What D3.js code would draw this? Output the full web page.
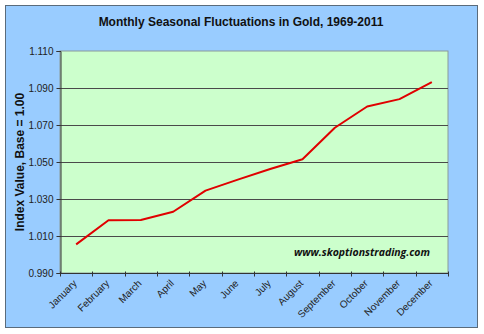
<!DOCTYPE html>
<html>
<head>
<meta charset="utf-8">
<script src="https://cdn.jsdelivr.net/npm/d3@7"></script>
<style>
  html, body { margin: 0; padding: 0; background: #ffffff; }
  svg { display: block; }
</style>
</head>
<body>
<script>
// Monthly seasonal index of gold prices, base = 1.00
const months = ["January", "February", "March", "April", "May", "June",
                "July", "August", "September", "October", "November", "December"];
const indexValues = [1.0055, 1.0185, 1.0186, 1.0231, 1.0345, 1.0405,
                     1.0462, 1.0515, 1.0685, 1.0800, 1.0840, 1.0932];
const yTicks = [0.990, 1.010, 1.030, 1.050, 1.070, 1.090, 1.110];

const W = 484, H = 334;
const plot = { left: 60, top: 51, right: 448, bottom: 273 };

const svg = d3.select("body").append("svg")
  .attr("width", W).attr("height", H);

// chart frame
svg.append("rect")
  .attr("x", 5.5).attr("y", 5.5).attr("width", 472).attr("height", 322)
  .attr("fill", "#99ccff").attr("stroke", "#5a6b7b").attr("stroke-width", 1);

const x = d3.scaleBand().domain(months).range([plot.left, plot.right]);
const y = d3.scaleLinear().domain([0.990, 1.110]).range([plot.bottom, plot.top]);

// plot area
svg.append("rect")
  .attr("x", plot.left).attr("y", plot.top)
  .attr("width", plot.right - plot.left).attr("height", plot.bottom - plot.top)
  .attr("fill", "#ccffcc").attr("stroke", "#8a9a9a").attr("stroke-width", 1);

// horizontal gridlines
svg.append("g").selectAll("line")
  .data(yTicks.slice(1, -1))
  .join("line")
  .attr("x1", plot.left).attr("x2", plot.right)
  .attr("y1", d => Math.round(y(d)) + 0.5).attr("y2", d => Math.round(y(d)) + 0.5)
  .attr("stroke", "#4a4a4a").attr("stroke-width", 1);

// y axis
const yAxis = svg.append("g")
  .attr("transform", `translate(${plot.left + 0.5},0)`)
  .call(d3.axisLeft(y).tickValues(yTicks).tickFormat(d3.format(".3f"))
    .tickSize(4).tickPadding(3));
yAxis.select(".domain").attr("stroke", "#333");
yAxis.selectAll(".tick line").attr("stroke", "#333");
yAxis.selectAll("text")
  .attr("font-family", "Arial, 'Liberation Sans', sans-serif")
  .attr("font-size", 10).attr("fill", "#222");

// x axis with ticks between categories
const xAxisG = svg.append("g")
  .attr("transform", `translate(0,${plot.bottom + 0.5})`);
xAxisG.append("line")
  .attr("x1", plot.left).attr("x2", plot.right)
  .attr("stroke", "#333");
xAxisG.selectAll("line.tk")
  .data(months.concat(["end"]))
  .join("line").attr("class", "tk")
  .attr("x1", (d, i) => Math.round(plot.left + i * x.step()) + 0.5)
  .attr("x2", (d, i) => Math.round(plot.left + i * x.step()) + 0.5)
  .attr("y1", -2).attr("y2", 3)
  .attr("stroke", "#333");
xAxisG.selectAll("text")
  .data(months)
  .join("text")
  .attr("transform", d => `translate(${x(d) + x.bandwidth() / 2 - 1},8) rotate(-45)`)
  .attr("text-anchor", "end")
  .attr("dy", "0.35em")
  .attr("font-family", "Arial, 'Liberation Sans', sans-serif")
  .attr("font-size", 10).attr("fill", "#222")
  .text(d => d);

// index line
const line = d3.line()
  .x((d, i) => x(months[i]) + x.bandwidth() / 2)
  .y(d => y(d));
svg.append("path")
  .datum(indexValues)
  .attr("d", line)
  .attr("fill", "none")
  .attr("stroke", "#e00000")
  .attr("stroke-width", 2)
  .attr("stroke-linejoin", "round");

// title
svg.append("text")
  .attr("x", 241).attr("y", 26)
  .attr("text-anchor", "middle")
  .attr("font-family", "Arial, 'Liberation Sans', sans-serif")
  .attr("font-weight", "bold").attr("font-size", 12)
  .attr("fill", "#111")
  .text("Monthly Seasonal Fluctuations in Gold, 1969-2011");

// y axis title
svg.append("text")
  .attr("transform", `translate(24,${(plot.top + plot.bottom) / 2}) rotate(-90)`)
  .attr("text-anchor", "middle")
  .attr("font-family", "Arial, 'Liberation Sans', sans-serif")
  .attr("font-weight", "bold").attr("font-size", 12)
  .attr("fill", "#111")
  .text("Index Value, Base = 1.00");

// site credit
svg.append("text")
  .attr("x", 430).attr("y", 256)
  .attr("text-anchor", "end")
  .attr("font-family", "'Open Sans', 'Liberation Sans', sans-serif")
  .attr("font-weight", "bold").attr("font-style", "italic").attr("font-size", 10.5)
  .attr("fill", "#111")
  .text("www.skoptionstrading.com");
</script>
</body>
</html>
